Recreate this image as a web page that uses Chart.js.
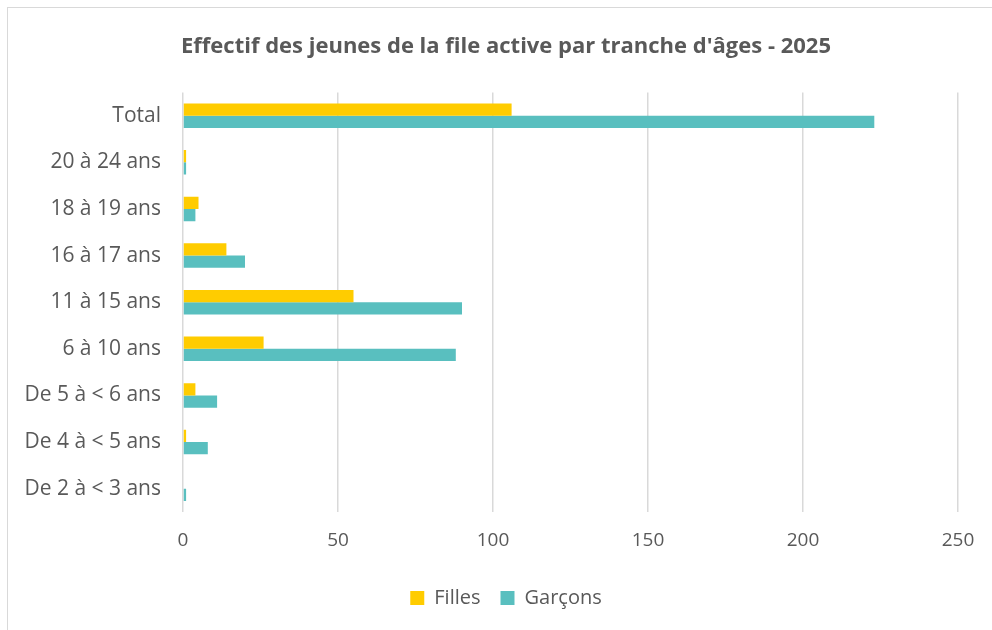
<!DOCTYPE html>
<html>
<head>
<meta charset="utf-8">
<script src="https://cdn.jsdelivr.net/npm/chart.js@4"></script>
<style>
  html, body { margin: 0; padding: 0; background: #fff; }
  #wrap { position: relative; width: 992px; height: 630px; }
  #frame { position: absolute; left: 7px; top: 7px; width: 990px; height: 630px; border: 1px solid #d9d9d9; box-sizing: border-box; pointer-events: none; }
  canvas { position: absolute; left: 0; top: 0; }
</style>
</head>
<body>
<div id="wrap">
  <div id="frame"></div>
  <canvas id="ageChart" width="992" height="630"></canvas>
</div>
<script>
// --------------------- Data ---------------------
const categories = ["Total", "20 à 24 ans", "18 à 19 ans", "16 à 17 ans", "11 à 15 ans", "6 à 10 ans", "De 5 à < 6 ans", "De 4 à < 5 ans", "De 2 à < 3 ans"];
const filles = [106, 1, 5, 14, 55, 26, 4, 1, 0];
const garcons = [223, 1, 4, 20, 90, 88, 11, 8, 1];
const xTicks = [0, 50, 100, 150, 200, 250];

const textColor = "#595959";
const fontFamily = "'Open Sans', Lato, sans-serif";

// --------------------- Chart ---------------------
new Chart(document.getElementById("ageChart"), {
  type: "bar",
  data: {
    labels: categories,
    datasets: [
      { label: "Filles", data: filles, backgroundColor: "#ffcc00", barPercentage: 1, categoryPercentage: 0.525 },
      { label: "Garçons", data: garcons, backgroundColor: "#59bfbf", barPercentage: 1, categoryPercentage: 0.525 }
    ]
  },
  options: {
    indexAxis: "y",
    responsive: false,
    animation: false,
    layout: { padding: { left: 20, right: 0, top: 0, bottom: 12 } },
    plugins: {
      title: {
        display: true,
        text: "Effectif des jeunes de la file active par tranche d'âges - 2025",
        color: textColor,
        font: { family: fontFamily, size: 22, weight: "bold" },
        padding: { top: 34, bottom: 32 }
      },
      legend: {
        position: "bottom",
        labels: { color: textColor, font: { family: fontFamily, size: 20 }, boxWidth: 14, boxHeight: 14, padding: 20 }
      },
      tooltip: { enabled: false }
    },
    scales: {
      x: {
        min: 0,
        max: 250,
        afterBuildTicks: (scale) => { scale.ticks = xTicks.map(v => ({ value: v })); },
        afterFit: (scale) => { scale.height = 56; },
        grid: { color: "#d9d9d9", lineWidth: 1.5, drawTicks: false },
        border: { display: false },
        ticks: { color: textColor, font: { family: fontFamily, size: 19 }, padding: 17 }
      },
      y: {
        afterFit: (scale) => { scale.width = 163; },
        grid: { display: false, drawTicks: false },
        border: { display: false },
        ticks: { color: textColor, font: { family: fontFamily, size: 21 }, padding: 22 }
      },
      // empty right-hand axis keeping room on the right of the plot
      yRight: {
        type: "linear",
        position: "right",
        afterFit: (scale) => { scale.width = 34; },
        grid: { display: false, drawTicks: false },
        border: { display: false },
        ticks: { display: false }
      }
    }
  }
});
</script>
</body>
</html>
